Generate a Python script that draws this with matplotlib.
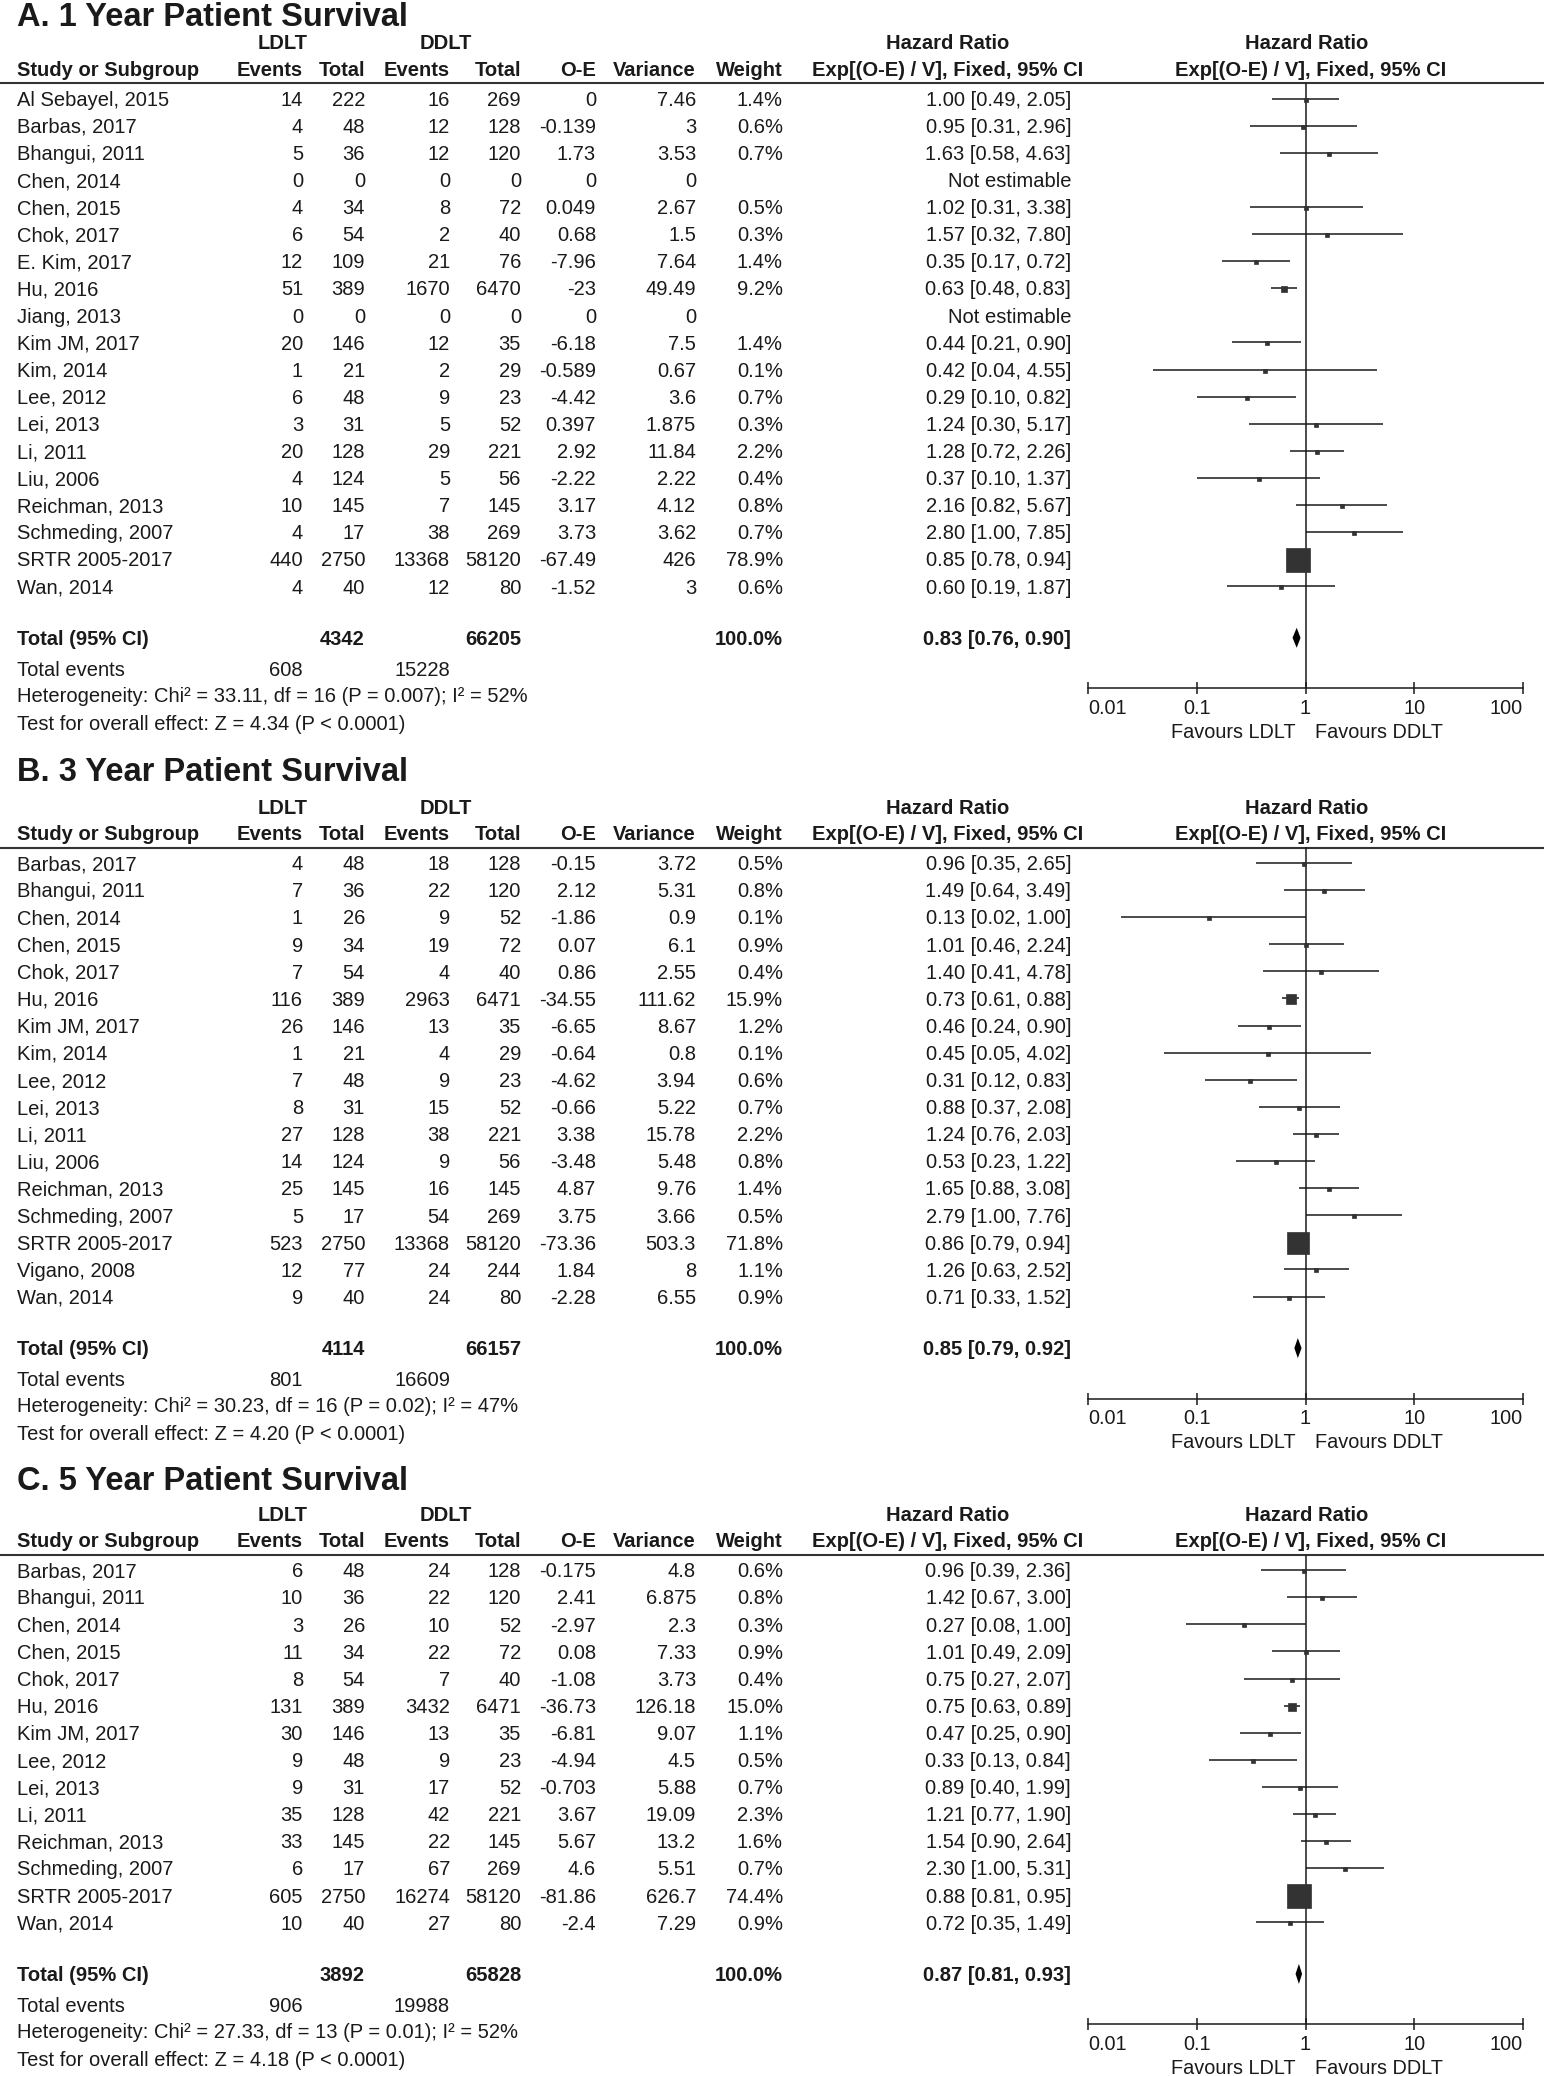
import numpy as np
import matplotlib.pyplot as plt

plt.rcParams['font.family'] = ['Liberation Sans', 'DejaVu Sans']

W, H = 1544, 2076
ink = '#1a1a1a'
box_col = '#333333'
nan = np.nan

# ---------------- A. 1 year patient survival ----------------
a_study = ['Al Sebayel, 2015', 'Barbas, 2017', 'Bhangui, 2011', 'Chen, 2014', 'Chen, 2015',
           'Chok, 2017', 'E. Kim, 2017', 'Hu, 2016', 'Jiang, 2013', 'Kim JM, 2017', 'Kim, 2014',
           'Lee, 2012', 'Lei, 2013', 'Li, 2011', 'Liu, 2006', 'Reichman, 2013', 'Schmeding, 2007',
           'SRTR 2005-2017', 'Wan, 2014']
a_ld_ev = [14, 4, 5, 0, 4, 6, 12, 51, 0, 20, 1, 6, 3, 20, 4, 10, 4, 440, 4]
a_ld_tot = [222, 48, 36, 0, 34, 54, 109, 389, 0, 146, 21, 48, 31, 128, 124, 145, 17, 2750, 40]
a_dd_ev = [16, 12, 12, 0, 8, 2, 21, 1670, 0, 12, 2, 9, 5, 29, 5, 7, 38, 13368, 12]
a_dd_tot = [269, 128, 120, 0, 72, 40, 76, 6470, 0, 35, 29, 23, 52, 221, 56, 145, 269, 58120, 80]
a_oe = ['0', '-0.139', '1.73', '0', '0.049', '0.68', '-7.96', '-23', '0', '-6.18', '-0.589',
        '-4.42', '0.397', '2.92', '-2.22', '3.17', '3.73', '-67.49', '-1.52']
a_var = ['7.46', '3', '3.53', '0', '2.67', '1.5', '7.64', '49.49', '0', '7.5', '0.67', '3.6',
         '1.875', '11.84', '2.22', '4.12', '3.62', '426', '3']
a_weight = [1.4, 0.6, 0.7, nan, 0.5, 0.3, 1.4, 9.2, nan, 1.4, 0.1, 0.7, 0.3, 2.2, 0.4, 0.8, 0.7, 78.9, 0.6]
a_hr = [1.00, 0.95, 1.63, nan, 1.02, 1.57, 0.35, 0.63, nan, 0.44, 0.42, 0.29, 1.24, 1.28, 0.37, 2.16, 2.80, 0.85, 0.60]
a_lo = [0.49, 0.31, 0.58, nan, 0.31, 0.32, 0.17, 0.48, nan, 0.21, 0.04, 0.10, 0.30, 0.72, 0.10, 0.82, 1.00, 0.78, 0.19]
a_hi = [2.05, 2.96, 4.63, nan, 3.38, 7.80, 0.72, 0.83, nan, 0.90, 4.55, 0.82, 5.17, 2.26, 1.37, 5.67, 7.85, 0.94, 1.87]
a_tot = [4342, 66205, 608, 15228]
a_pool = [0.83, 0.76, 0.90]
a_het = 'Heterogeneity: Chi² = 33.11, df = 16 (P = 0.007); I² = 52%'
a_z = 'Test for overall effect: Z = 4.34 (P < 0.0001)'

# ---------------- B. 3 year patient survival ----------------
b_study = ['Barbas, 2017', 'Bhangui, 2011', 'Chen, 2014', 'Chen, 2015', 'Chok, 2017', 'Hu, 2016',
           'Kim JM, 2017', 'Kim, 2014', 'Lee, 2012', 'Lei, 2013', 'Li, 2011', 'Liu, 2006',
           'Reichman, 2013', 'Schmeding, 2007', 'SRTR 2005-2017', 'Vigano, 2008', 'Wan, 2014']
b_ld_ev = [4, 7, 1, 9, 7, 116, 26, 1, 7, 8, 27, 14, 25, 5, 523, 12, 9]
b_ld_tot = [48, 36, 26, 34, 54, 389, 146, 21, 48, 31, 128, 124, 145, 17, 2750, 77, 40]
b_dd_ev = [18, 22, 9, 19, 4, 2963, 13, 4, 9, 15, 38, 9, 16, 54, 13368, 24, 24]
b_dd_tot = [128, 120, 52, 72, 40, 6471, 35, 29, 23, 52, 221, 56, 145, 269, 58120, 244, 80]
b_oe = ['-0.15', '2.12', '-1.86', '0.07', '0.86', '-34.55', '-6.65', '-0.64', '-4.62', '-0.66',
        '3.38', '-3.48', '4.87', '3.75', '-73.36', '1.84', '-2.28']
b_var = ['3.72', '5.31', '0.9', '6.1', '2.55', '111.62', '8.67', '0.8', '3.94', '5.22', '15.78',
         '5.48', '9.76', '3.66', '503.3', '8', '6.55']
b_weight = [0.5, 0.8, 0.1, 0.9, 0.4, 15.9, 1.2, 0.1, 0.6, 0.7, 2.2, 0.8, 1.4, 0.5, 71.8, 1.1, 0.9]
b_hr = [0.96, 1.49, 0.13, 1.01, 1.40, 0.73, 0.46, 0.45, 0.31, 0.88, 1.24, 0.53, 1.65, 2.79, 0.86, 1.26, 0.71]
b_lo = [0.35, 0.64, 0.02, 0.46, 0.41, 0.61, 0.24, 0.05, 0.12, 0.37, 0.76, 0.23, 0.88, 1.00, 0.79, 0.63, 0.33]
b_hi = [2.65, 3.49, 1.00, 2.24, 4.78, 0.88, 0.90, 4.02, 0.83, 2.08, 2.03, 1.22, 3.08, 7.76, 0.94, 2.52, 1.52]
b_tot = [4114, 66157, 801, 16609]
b_pool = [0.85, 0.79, 0.92]
b_het = 'Heterogeneity: Chi² = 30.23, df = 16 (P = 0.02); I² = 47%'
b_z = 'Test for overall effect: Z = 4.20 (P < 0.0001)'

# ---------------- C. 5 year patient survival ----------------
c_study = ['Barbas, 2017', 'Bhangui, 2011', 'Chen, 2014', 'Chen, 2015', 'Chok, 2017', 'Hu, 2016',
           'Kim JM, 2017', 'Lee, 2012', 'Lei, 2013', 'Li, 2011', 'Reichman, 2013', 'Schmeding, 2007',
           'SRTR 2005-2017', 'Wan, 2014']
c_ld_ev = [6, 10, 3, 11, 8, 131, 30, 9, 9, 35, 33, 6, 605, 10]
c_ld_tot = [48, 36, 26, 34, 54, 389, 146, 48, 31, 128, 145, 17, 2750, 40]
c_dd_ev = [24, 22, 10, 22, 7, 3432, 13, 9, 17, 42, 22, 67, 16274, 27]
c_dd_tot = [128, 120, 52, 72, 40, 6471, 35, 23, 52, 221, 145, 269, 58120, 80]
c_oe = ['-0.175', '2.41', '-2.97', '0.08', '-1.08', '-36.73', '-6.81', '-4.94', '-0.703', '3.67',
        '5.67', '4.6', '-81.86', '-2.4']
c_var = ['4.8', '6.875', '2.3', '7.33', '3.73', '126.18', '9.07', '4.5', '5.88', '19.09', '13.2',
         '5.51', '626.7', '7.29']
c_weight = [0.6, 0.8, 0.3, 0.9, 0.4, 15.0, 1.1, 0.5, 0.7, 2.3, 1.6, 0.7, 74.4, 0.9]
c_hr = [0.96, 1.42, 0.27, 1.01, 0.75, 0.75, 0.47, 0.33, 0.89, 1.21, 1.54, 2.30, 0.88, 0.72]
c_lo = [0.39, 0.67, 0.08, 0.49, 0.27, 0.63, 0.25, 0.13, 0.40, 0.77, 0.90, 1.00, 0.81, 0.35]
c_hi = [2.36, 3.00, 1.00, 2.09, 2.07, 0.89, 0.90, 0.84, 1.99, 1.90, 2.64, 5.31, 0.95, 1.49]
c_tot = [3892, 65828, 906, 19988]
c_pool = [0.87, 0.81, 0.93]
c_het = 'Heterogeneity: Chi² = 27.33, df = 13 (P = 0.01); I² = 52%'
c_z = 'Test for overall effect: Z = 4.18 (P < 0.0001)'

# column anchors (pixels, right edges)
x_name = 17
x_cols = [303, 365, 450, 521, 596, 696, 783]
x_hr = 1071
x_hr_head = 948
ax_x0, ax_x1 = 1088, 1523
fs = 14.5
row_h = 27.1

fig = plt.figure(figsize=(W / 100, H / 100), dpi=100)
ax = fig.add_axes([0, 0, 1, 1])
ax.set_xlim(0, W)
ax.set_ylim(H, 0)
ax.axis('off')


def txt(x, y, s, ha='left', bold=False, size=fs):
    # y is the visual middle of the capitals
    ax.text(x, y + size * 1.389 * 0.716 / 2, s, ha=ha, va='baseline', color=ink,
            fontsize=size, fontweight='bold' if bold else 'normal')


def panel(title, title_y, line_y, study, ld_ev, ld_tot, dd_ev, dd_tot, oe, var, weight,
          hr, lo, hi, tot, pool, het, zt):
    txt(x_name, title_y, title, bold=True, size=23.5)
    txt(283, line_y - 41, 'LDLT', ha='center', bold=True)
    txt(446, line_y - 41, 'DDLT', ha='center', bold=True)
    txt(x_hr_head, line_y - 41, 'Hazard Ratio', ha='center', bold=True)
    txt(1307, line_y - 41, 'Hazard Ratio', ha='center', bold=True)
    hy = line_y - 14.5
    txt(x_name, hy, 'Study or Subgroup', bold=True)
    for x, s in zip(x_cols, ['Events', 'Total', 'Events', 'Total', 'O-E', 'Variance', 'Weight']):
        txt(x, hy, s, ha='right', bold=True)
    txt(x_hr_head, hy, 'Exp[(O-E) / V], Fixed, 95% CI', ha='center', bold=True)
    txt(1311, hy, 'Exp[(O-E) / V], Fixed, 95% CI', ha='center', bold=True)
    ax.plot([0, W], [line_y, line_y], color='#333333', lw=1.5, solid_capstyle='butt')

    ys = line_y + 15.5 + row_h * np.arange(len(study))
    for i, y in enumerate(ys):
        txt(x_name, y, study[i])
        w = weight[i]
        cells = [str(ld_ev[i]), str(ld_tot[i]), str(dd_ev[i]), str(dd_tot[i]), oe[i], var[i],
                 '' if np.isnan(w) else f'{w:.1f}%']
        for x, s in zip(x_cols, cells):
            txt(x, y, s, ha='right')
        if np.isnan(hr[i]):
            txt(x_hr, y, 'Not estimable', ha='right')
        else:
            txt(x_hr, y, f'{hr[i]:.2f} [{lo[i]:.2f}, {hi[i]:.2f}]', ha='right')

    y_tot = ys[-1] + 51.5
    txt(x_name, y_tot, 'Total (95% CI)', bold=True)
    txt(x_cols[1], y_tot, str(tot[0]), ha='right', bold=True)
    txt(x_cols[3], y_tot, str(tot[1]), ha='right', bold=True)
    txt(x_cols[6], y_tot, '100.0%', ha='right', bold=True)
    txt(x_hr, y_tot, f'{pool[0]:.2f} [{pool[1]:.2f}, {pool[2]:.2f}]', ha='right', bold=True)
    txt(x_name, y_tot + 31, 'Total events')
    txt(x_cols[0], y_tot + 31, str(tot[2]), ha='right')
    txt(x_cols[2], y_tot + 31, str(tot[3]), ha='right')
    txt(x_name, y_tot + 57, het)
    txt(x_name, y_tot + 84.5, zt)

    # forest part, y in page pixels
    y_axis = y_tot + 50.5
    fa = fig.add_axes([ax_x0 / W, 1 - y_axis / H, (ax_x1 - ax_x0) / W, (y_axis - line_y) / H])
    fa.patch.set_alpha(0)
    fa.set_xscale('log')
    fa.set_xlim(0.01, 100)
    fa.set_ylim(y_axis, line_y)
    for s in ['top', 'left', 'right']:
        fa.spines[s].set_visible(False)
    fa.spines['bottom'].set_color(ink)
    fa.spines['bottom'].set_linewidth(1.1)
    fa.set_yticks([])
    fa.set_xticks([0.01, 0.1, 1, 10, 100])
    fa.set_xticklabels(['0.01', '0.1', '1', '10', '100'])
    fa.minorticks_off()
    fa.tick_params(axis='x', direction='inout', length=9, width=1.1, color=ink,
                   labelsize=14.3, labelcolor=ink, pad=3)
    labs = fa.get_xticklabels()
    labs[0].set_ha('left')
    labs[-1].set_ha('right')
    fa.axvline(1, color=ink, lw=1.1)

    for i, y in enumerate(ys):
        if np.isnan(hr[i]):
            continue
        fa.plot([lo[i], hi[i]], [y, y], color=ink, lw=1.1, solid_capstyle='butt', clip_on=False)
        side = max(3.5, 24 * (weight[i] / 78.9) ** 0.6) * 0.72
        fa.plot(hr[i], y + 1, marker='s', ms=side, color=box_col, mec=box_col, mew=0.5,
                clip_on=False)

    h = 10
    fa.fill([pool[1], pool[0], pool[2], pool[0]], [y_tot, y_tot - h, y_tot, y_tot + h],
            color='black', lw=0, clip_on=False)

    for s, dx, ha in [('Favours LDLT', -7, 'right'), ('Favours DDLT', 7, 'left')]:
        fa.annotate(s, xy=(1, 0), xycoords=('data', 'axes fraction'), xytext=(dx, -44 * 0.72),
                    textcoords='offset points', ha=ha, va='center', fontsize=14.3, color=ink)


panel('A. 1 Year Patient Survival', 14, 83, a_study, a_ld_ev, a_ld_tot, a_dd_ev, a_dd_tot,
      a_oe, a_var, a_weight, a_hr, a_lo, a_hi, a_tot, a_pool, a_het, a_z)
panel('B. 3 Year Patient Survival', 769, 847.5, b_study, b_ld_ev, b_ld_tot, b_dd_ev, b_dd_tot,
      b_oe, b_var, b_weight, b_hr, b_lo, b_hi, b_tot, b_pool, b_het, b_z)
panel('C. 5 Year Patient Survival', 1478, 1554.6, c_study, c_ld_ev, c_ld_tot, c_dd_ev, c_dd_tot,
      c_oe, c_var, c_weight, c_hr, c_lo, c_hi, c_tot, c_pool, c_het, c_z)

fig.savefig('out.png', dpi=100)
